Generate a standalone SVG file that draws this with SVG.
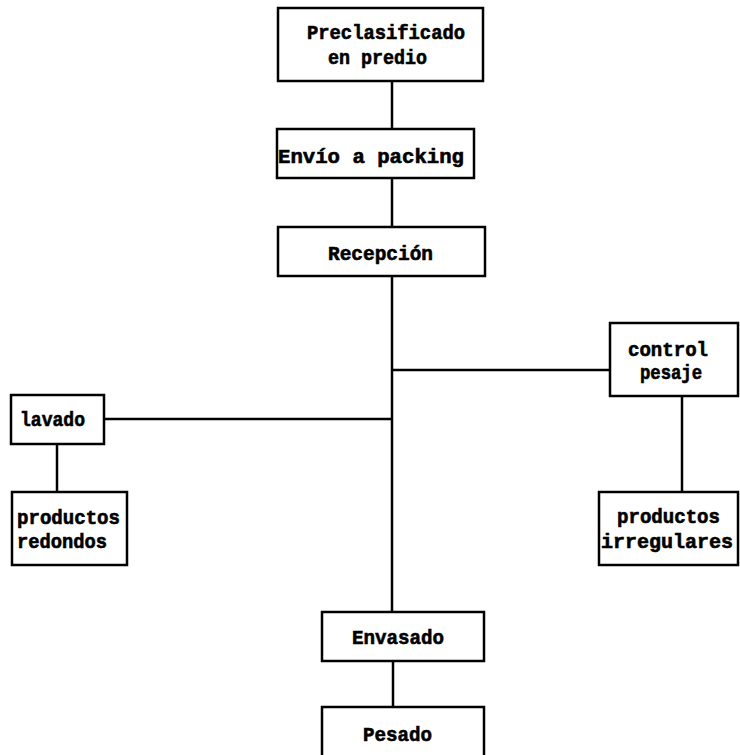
<svg xmlns="http://www.w3.org/2000/svg" width="740" height="755" viewBox="0 0 740 755">
<style>
.box{fill:#fff;stroke:#000;stroke-width:2.5}
.ln{stroke:#000;stroke-width:2.5;fill:none}
text{font-family:"Liberation Mono","DejaVu Sans Mono",monospace;font-weight:bold;font-size:20px;fill:#000;stroke:#000;stroke-width:0.6}
</style>
<rect width="740" height="755" fill="#fff"/>
<g id="connectors">
<line class="ln" x1="392" y1="81" x2="392" y2="129"/>
<line class="ln" x1="392" y1="178" x2="392" y2="227"/>
<line class="ln" x1="392" y1="276" x2="392" y2="612"/>
<line class="ln" x1="392" y1="370" x2="610" y2="370"/>
<line class="ln" x1="104" y1="419" x2="392" y2="419"/>
<line class="ln" x1="57" y1="444" x2="57" y2="492"/>
<line class="ln" x1="682" y1="396" x2="682" y2="492"/>
<line class="ln" x1="393" y1="661" x2="393" y2="707"/>
</g>
<g id="preclasificado">
<rect class="box" x="278" y="8" width="205" height="73"/>
<text x="307" y="39" textLength="158" lengthAdjust="spacingAndGlyphs">Preclasificado</text>
<text x="328" y="64" textLength="99" lengthAdjust="spacingAndGlyphs">en predio</text>
</g>
<g id="envio">
<rect class="box" x="277" y="129" width="197" height="49"/>
<text x="278" y="163" textLength="186" lengthAdjust="spacingAndGlyphs">Envío a packing</text>
</g>
<g id="recepcion">
<rect class="box" x="278" y="227" width="207" height="49"/>
<text x="328" y="260" textLength="105" lengthAdjust="spacingAndGlyphs">Recepción</text>
</g>
<g id="lavado">
<rect class="box" x="11" y="395" width="93" height="49"/>
<text x="20" y="426" textLength="65" lengthAdjust="spacingAndGlyphs">lavado</text>
</g>
<g id="redondos">
<rect class="box" x="12" y="492" width="115" height="73"/>
<text x="17" y="524" textLength="103" lengthAdjust="spacingAndGlyphs">productos</text>
<text x="17" y="548" textLength="90" lengthAdjust="spacingAndGlyphs">redondos</text>
</g>
<g id="control">
<rect class="box" x="610" y="323" width="128" height="73"/>
<text x="628" y="356" textLength="80" lengthAdjust="spacingAndGlyphs">control</text>
<text x="640" y="379" textLength="62" lengthAdjust="spacingAndGlyphs">pesaje</text>
</g>
<g id="irregulares">
<rect class="box" x="599" y="492" width="139" height="73"/>
<text x="617" y="523" textLength="103" lengthAdjust="spacingAndGlyphs">productos</text>
<text x="601" y="548" textLength="132" lengthAdjust="spacingAndGlyphs">irregulares</text>
</g>
<g id="envasado">
<rect class="box" x="322" y="612" width="162" height="49"/>
<text x="352" y="644" textLength="92" lengthAdjust="spacingAndGlyphs">Envasado</text>
</g>
<g id="pesado">
<rect class="box" x="322" y="707" width="162" height="60"/>
<text x="363" y="741" textLength="69" lengthAdjust="spacingAndGlyphs">Pesado</text>
</g>
</svg>
